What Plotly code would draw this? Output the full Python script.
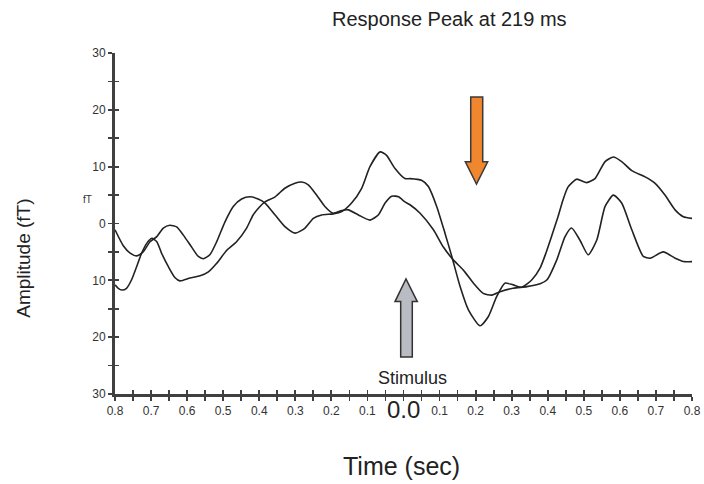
import plotly.graph_objects as go

# ---- data ----
time_a = [-0.800, -0.777, -0.758, -0.740, -0.722, -0.703, -0.684, -0.666, -0.648, -0.629,
          -0.611, -0.587, -0.569, -0.555, -0.537, -0.518, -0.495, -0.472, -0.449, -0.426,
          -0.403, -0.384, -0.356, -0.328, -0.300, -0.273, -0.250, -0.227, -0.195, -0.171,
          -0.144, -0.116, -0.093, -0.065, -0.047, -0.024, 0.004, 0.018, 0.050, 0.069,
          0.092, 0.115, 0.134, 0.157, 0.180, 0.212, 0.235, 0.258, 0.281, 0.304,
          0.329, 0.356, 0.379, 0.395, 0.412, 0.428, 0.442, 0.456, 0.480, 0.508,
          0.531, 0.559, 0.582, 0.605, 0.633, 0.670, 0.697, 0.725, 0.753, 0.776, 0.800]
amp_a = [-1.1, -3.9, -5.2, -5.7, -5.0, -3.2, -2.3, -0.8, -0.3, -0.6,
         -2.0, -4.2, -5.8, -6.2, -5.5, -3.2, 0.3, 3.0, 4.3, 4.7,
         4.3, 3.6, 1.5, -0.6, -1.7, -0.8, 0.9, 1.5, 1.7, 2.1,
         3.6, 6.2, 10.0, 12.6, 12.0, 9.7, 7.9, 7.9, 7.6, 6.5,
         3.0, -1.7, -5.8, -11.1, -15.2, -18.0, -16.4, -12.9, -10.5, -10.8,
         -11.2, -9.9, -7.8, -5.2, -2.0, 1.1, 4.1, 6.4, 7.8, 7.2,
         7.9, 10.9, 11.7, 10.9, 9.3, 8.2, 7.1, 5.0, 2.4, 1.2, 0.9]

time_b = [-0.800, -0.791, -0.781, -0.768, -0.754, -0.740, -0.726, -0.712, -0.698, -0.684,
          -0.671, -0.652, -0.634, -0.620, -0.592, -0.564, -0.541, -0.518, -0.490, -0.463,
          -0.435, -0.417, -0.398, -0.384, -0.356, -0.329, -0.301, -0.282, -0.264, -0.241,
          -0.218, -0.195, -0.171, -0.153, -0.125, -0.093, -0.070, -0.051, -0.033, -0.014,
          0.004, 0.018, 0.046, 0.083, 0.110, 0.138, 0.166, 0.194, 0.221, 0.245,
          0.268, 0.304, 0.342, 0.379, 0.398, 0.425, 0.448, 0.466, 0.489, 0.512,
          0.536, 0.559, 0.582, 0.605, 0.633, 0.665, 0.684, 0.720, 0.753, 0.776, 0.800]
amp_b = [-10.8, -11.4, -11.7, -11.4, -9.9, -7.6, -5.2, -3.5, -2.6, -3.2,
         -5.2, -7.6, -9.5, -10.1, -9.6, -9.2, -8.5, -7.0, -4.7, -3.2,
         -0.8, 1.5, 3.0, 3.8, 4.7, 6.2, 7.1, 7.3, 6.8, 5.0,
         3.0, 1.8, 2.3, 2.4, 1.5, 0.6, 1.5, 3.6, 4.8, 4.7,
         3.8, 3.3, 1.8, -1.1, -4.1, -6.4, -8.2, -10.5, -12.3, -12.6,
         -12.0, -11.4, -11.1, -10.6, -9.9, -6.4, -2.3, -0.8, -2.9, -5.5,
         -2.9, 3.0, 5.0, 3.6, -1.1, -5.8, -6.1, -5.0, -6.1, -6.7, -6.7]

x_tick_values = [-0.8, -0.7, -0.6, -0.5, -0.4, -0.3, -0.2, -0.1, 0.0,
                 0.1, 0.2, 0.3, 0.4, 0.5, 0.6, 0.7, 0.8]
x_tick_labels = ["0.8", "0.7", "0.6", "0.5", "0.4", "0.3", "0.2", "0.1", "",
                 "0.1", "0.2", "0.3", "0.4", "0.5", "0.6", "0.7", "0.8"]
y_tick_values = [30, 20, 10, 0, -10, -20, -30]
y_tick_labels = ["30", "20", "10", "0", "10", "20", "30"]

# minor tick positions (unlabelled, halfway between labelled ones)
x_all = []
x_all_txt = []
for i, v in enumerate(x_tick_values):
    x_all.append(v); x_all_txt.append(x_tick_labels[i])
    if i < len(x_tick_values) - 1:
        x_all.append(round((v + x_tick_values[i + 1]) / 2, 3)); x_all_txt.append("")
y_all = []
y_all_txt = []
for i, v in enumerate(y_tick_values):
    y_all.append(v); y_all_txt.append(y_tick_labels[i])
    if i < len(y_tick_values) - 1:
        y_all.append((v + y_tick_values[i + 1]) / 2); y_all_txt.append("")

FONT = "Liberation Sans, Arial, Helvetica, sans-serif"
LINE = "#222222"
AXC = "#404040"

fig = go.Figure()
fig.add_trace(go.Scatter(x=time_a, y=amp_a, mode="lines",
                         line=dict(color=LINE, width=1.6, shape="spline", smoothing=0.6),
                         showlegend=False, hoverinfo="skip"))
fig.add_trace(go.Scatter(x=time_b, y=amp_b, mode="lines",
                         line=dict(color=LINE, width=1.6, shape="spline", smoothing=0.6),
                         showlegend=False, hoverinfo="skip"))
# dummy trace so the overlay axes (inner half of the crossing ticks) are drawn
fig.add_trace(go.Scatter(x=[None], y=[None], xaxis="x2", yaxis="y2",
                         showlegend=False, hoverinfo="skip"))

common_x = dict(range=[-0.8, 0.8], tickmode="array", tickvals=x_all, showgrid=False,
                zeroline=False, ticklen=4, tickwidth=1.8, tickcolor=AXC, fixedrange=True)
common_y = dict(range=[-30, 30], tickmode="array", tickvals=y_all, showgrid=False,
                zeroline=False, ticklen=4, tickwidth=1.8, tickcolor=AXC, fixedrange=True)

fig.update_layout(
    width=704, height=484,
    margin=dict(l=115, r=12, t=53, b=90, autoexpand=False),
    paper_bgcolor="white", plot_bgcolor="white",
    font=dict(family=FONT, color="#222222"),
    xaxis=dict(**common_x, ticktext=x_all_txt, ticks="outside", showline=True,
               linecolor=AXC, linewidth=3, tickfont=dict(size=12, color="#333333")),
    yaxis=dict(**common_y, ticktext=y_all_txt, ticks="outside", showline=True,
               linecolor=AXC, linewidth=3, tickfont=dict(size=12, color="#333333")),
    xaxis2=dict(**common_x, overlaying="x", anchor="y2", side="bottom", ticks="inside",
                showticklabels=False, showline=False),
    yaxis2=dict(**common_y, overlaying="y", anchor="x2", side="left", ticks="inside",
                showticklabels=False, showline=False),
)

# block arrows (annotation shapes)
fig.add_shape(type="path", xref="x", yref="y",
              path="M 0.1864,22.27 L 0.2197,22.27 L 0.2197,10.86 L 0.2335,10.86 "
                   "L 0.2024,6.94 L 0.1714,10.86 L 0.1864,10.86 Z",
              fillcolor="#f0862e", line=dict(color="#3a3a3a", width=1.5))
fig.add_shape(type="path", xref="x", yref="y",
              path="M -0.0078,-23.50 L 0.0244,-23.50 L 0.0244,-13.74 L 0.0383,-13.74 "
                   "L 0.0069,-9.75 L -0.0236,-13.74 L -0.0078,-13.74 Z",
              fillcolor="#b9bcc3", line=dict(color="#333333", width=1.5))

ann = [
    dict(text="Response Peak at 219 ms", x=0.579, y=1.099, xref="paper", yref="paper",
         showarrow=False, font=dict(size=20, family=FONT, color="#222222"),
         xanchor="center", yanchor="middle"),
    dict(text="Time (sec)", x=0.496, y=-0.21, xref="paper", yref="paper",
         showarrow=False, font=dict(size=25, family=FONT, color="#222222"),
         xanchor="center", yanchor="middle"),
    dict(text="Amplitude (fT)", x=-0.158, y=0.399, xref="paper", yref="paper",
         showarrow=False, textangle=-90, font=dict(size=19, family=FONT, color="#222222"),
         xanchor="center", yanchor="middle"),
    dict(text="fT", x=-0.0485, y=0.569, xref="paper", yref="paper",
         showarrow=False, font=dict(size=10, family=FONT, color="#333333"),
         xanchor="center", yanchor="middle"),
    dict(text="Stimulus", x=0.0236, y=0.0477, xref="x", yref="paper",
         showarrow=False, font=dict(size=18, family=FONT, color="#222222"),
         xanchor="center", yanchor="middle"),
    dict(text="0.0", x=0.0, y=-0.046, xref="x", yref="paper",
         showarrow=False, font=dict(size=24, family=FONT, color="#222222"),
         xanchor="center", yanchor="middle"),
]
fig.update_layout(annotations=ann)

# remove the page's default body margin so the 704x484 figure fills the window exactly
fig.write_html("out.html",
               config={"displayModeBar": False, "staticPlot": True},
               post_script="document.body.style.margin='0';"
                           "document.body.style.overflow='hidden';")
